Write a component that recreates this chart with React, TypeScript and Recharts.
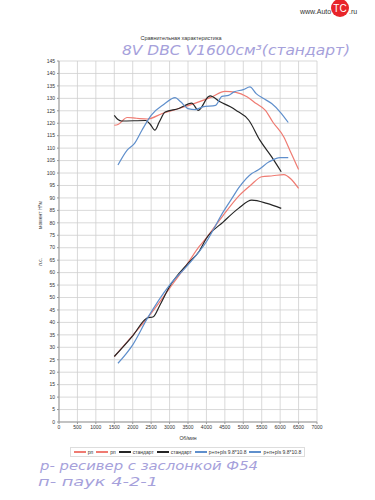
import React from 'react';
import { LineChart, Line, XAxis, YAxis, CartesianGrid, Legend } from 'recharts';

// X ticks (Об/мин) and Y ticks
const xTicks = [0, 500, 1000, 1500, 2000, 2500, 3000, 3500, 4000, 4500, 5000, 5500, 6000, 6500, 7000];
const yTicks = [0, 5, 10, 15, 20, 25, 30, 35, 40, 45, 50, 55, 60, 65, 70, 75, 80, 85, 90, 95, 100, 105, 110, 115, 120, 125, 130, 135, 140, 145];

// "рп" torque
const redTorqueRpm = [1500, 1600, 1850, 2100, 2400, 2800, 3250, 3700, 4150, 4500, 4800, 5100, 5350, 5600, 5800, 6100, 6300, 6500];
const redTorque = [119.2, 119.5, 122.3, 122, 121.7, 123.9, 125.9, 128.1, 130.6, 132.8, 132.4, 130.6, 127.9, 125.2, 120.5, 114.5, 107.9, 101.4];
// "рп" power
const redPowerRpm = [1500, 2000, 2400, 3000, 3500, 3800, 4000, 4460, 4900, 5200, 5500, 5800, 6100, 6300, 6500];
const redPower = [26.3, 34.8, 41.8, 53.7, 63.9, 70.4, 74, 83.1, 91.1, 95.1, 98.5, 98.9, 99.4, 97.5, 93.8];

// "стандарт" torque
const blackTorqueRpm = [1500, 1600, 1700, 2350, 2480, 2600, 2720, 2880, 3250, 3600, 3780, 4050, 4100, 4370, 4650, 4800, 5150, 5450, 5770, 6030];
const blackTorque = [123.2, 121.5, 120.9, 121.1, 119.5, 117.2, 120.5, 124.5, 125.9, 128.1, 125.2, 130.6, 131, 128.6, 126.6, 125.2, 121.2, 113.2, 106.5, 100.5];
// "стандарт" power
const blackPowerRpm = [1500, 2000, 2380, 2560, 2740, 3000, 3500, 3800, 4000, 4460, 4870, 5230, 5640, 6030];
const blackPower = [26.3, 34.6, 41.7, 42.3, 47, 54.4, 63.7, 68.5, 73.8, 80.4, 85.8, 89.1, 87.8, 85.8];

// "р+п+pls 9.8*10.8" torque
const blueTorqueRpm = [1600, 1850, 2050, 2250, 2500, 2850, 3150, 3300, 3500, 3700, 3900, 4250, 4420, 4600, 4750, 5000, 5180, 5350, 5550, 5770, 6000, 6220];
const blueTorque = [103.2, 109.2, 111.9, 117.2, 123.2, 127.6, 130.3, 128.6, 125.9, 125.5, 126.6, 127.2, 130.8, 131.2, 132.6, 133.5, 134.6, 131.9, 129.9, 127.9, 124.5, 120.3];
// "р+п+pls 9.8*10.8" power
const bluePowerRpm = [1600, 2000, 2400, 3000, 3500, 4000, 4460, 4700, 4900, 5230, 5400, 5700, 6000, 6220];
const bluePower = [23.6, 31, 41.7, 55, 63.1, 72.4, 84.5, 90, 94.5, 99.8, 101.2, 104.5, 106.2, 106.2];

const seriesNames = ['рп', 'рп', 'стандарт', 'стандарт', 'р+п+pls 9.8*10.8', 'р+п+pls 9.8*10.8'];

const RED = '#ef7b72';
const BLACK = '#262626';
const BLUE = '#5f8fcc';
const seriesColors = [RED, RED, BLACK, BLACK, BLUE, BLUE];

const toData = (rpm: number[], vals: number[]) => rpm.map((r, i) => ({ rpm: r, v: vals[i] }));

const FONT = '"Liberation Sans", Arial, sans-serif';
const HAND = '#a6a1db';

const LegendContent = () => {
  return (
    <div style={{ display: 'flex', justifyContent: 'center', width: 375 }}>
      <div style={{ display: 'flex', alignItems: 'center', border: '1px solid #ddd', padding: '1px 3px', fontFamily: FONT, fontSize: 5, color: '#333', gap: 3 }}>
        {seriesNames.map((n, i) => (
          <div key={i} style={{ display: 'flex', alignItems: 'center', gap: 2 }}>
            <div style={{ width: 12, height: 1.5, background: seriesColors[i] }} />
            <span>{n}</span>
          </div>
        ))}
      </div>
    </div>
  );
};

export default function App() {
  return (
    <div style={{ position: 'absolute', left: 0, top: 0, width: 375, height: 500, background: '#fff', fontFamily: FONT }}>
      <LineChart width={375} height={500} margin={{ top: 61, right: 58, bottom: 58, left: 0 }} style={{ fontFamily: FONT }}>
        <CartesianGrid stroke="#cfcfcf" strokeWidth={0.8} />
        <XAxis
          type="number"
          dataKey="rpm"
          domain={[0, 7000]}
          ticks={xTicks}
          interval={0}
          height={20}
          tickSize={2}
          tickMargin={1}
          tick={{ fontSize: 5, fill: '#333' }}
          stroke="#999"
          allowDuplicatedCategory={false}
        />
        <YAxis
          type="number"
          domain={[0, 145]}
          ticks={yTicks}
          interval={0}
          width={59}
          tickSize={2}
          tickMargin={2}
          tick={{ fontSize: 5, fill: '#333' }}
          stroke="#999"
        />
        <Line data={toData(redTorqueRpm, redTorque)} dataKey="v" name={seriesNames[0]} stroke={RED} strokeWidth={1.2} dot={false} type="monotone" isAnimationActive={false} />
        <Line data={toData(redPowerRpm, redPower)} dataKey="v" name={seriesNames[1]} stroke={RED} strokeWidth={1.2} dot={false} type="monotone" isAnimationActive={false} />
        <Line data={toData(blackTorqueRpm, blackTorque)} dataKey="v" name={seriesNames[2]} stroke={BLACK} strokeWidth={1.2} dot={false} type="monotone" isAnimationActive={false} />
        <Line data={toData(blackPowerRpm, blackPower)} dataKey="v" name={seriesNames[3]} stroke={BLACK} strokeWidth={1.2} dot={false} type="monotone" isAnimationActive={false} />
        <Line data={toData(blueTorqueRpm, blueTorque)} dataKey="v" name={seriesNames[4]} stroke={BLUE} strokeWidth={1.2} dot={false} type="monotone" isAnimationActive={false} />
        <Line data={toData(bluePowerRpm, bluePower)} dataKey="v" name={seriesNames[5]} stroke={BLUE} strokeWidth={1.2} dot={false} type="monotone" isAnimationActive={false} />
        <Legend
          layout="horizontal"
          verticalAlign="middle"
          align="center"
          content={<LegendContent />}
          wrapperStyle={{ top: 447, left: 0, width: 375 }}
        />
      </LineChart>
      <svg width={375} height={500} style={{ position: 'absolute', left: 0, top: 0, pointerEvents: 'none' }}>
        {/* watermark */}
        <text x={300} y={14} fontSize={7} fill="#333" fontFamily={FONT}>www.Auto</text>
        <circle cx={340} cy={8} r={9} fill="#e8242a" />
        <text x={340} y={12} fontSize={10} fill="#fff" textAnchor="middle" fontFamily={FONT}>TC</text>
        <text x={349} y={14} fontSize={7} fill="#333" fontFamily={FONT}>.ru</text>
        {/* title */}
        <text x={181} y={39.5} fontSize={5.5} fill="#333" textAnchor="middle" fontFamily={FONT}>Сравнительная характеристика</text>
        {/* handwriting */}
        <text x={122} y={55} fontSize={14} fill={HAND} fontStyle="italic" fontWeight={200} fontFamily='"DejaVu Sans", sans-serif' textLength={228} lengthAdjust="spacingAndGlyphs">8V DBC V1600см³(стандарт)</text>
        <text x={40} y={470} fontSize={13} fill={HAND} fontStyle="italic" fontWeight={200} fontFamily='"DejaVu Sans", sans-serif' textLength={218} lengthAdjust="spacingAndGlyphs">р- ресивер с заслонкой Ф54</text>
        <text x={38} y={486} fontSize={13} fill={HAND} fontStyle="italic" fontWeight={200} fontFamily='"DejaVu Sans", sans-serif' textLength={120} lengthAdjust="spacingAndGlyphs">п- паук 4-2-1</text>
        {/* axis labels */}
        <text x={188} y={440} fontSize={5} fill="#333" textAnchor="middle" fontFamily={FONT}>Об/мин</text>
        <text x={42} y={215} fontSize={5} fill="#333" textAnchor="middle" fontFamily={FONT} transform="rotate(-90 42 215)">момент Н*м</text>
        <text x={42} y={262} fontSize={5} fill="#333" textAnchor="middle" fontFamily={FONT} transform="rotate(-90 42 262)">л.с.</text>
      </svg>
    </div>
  );
}
